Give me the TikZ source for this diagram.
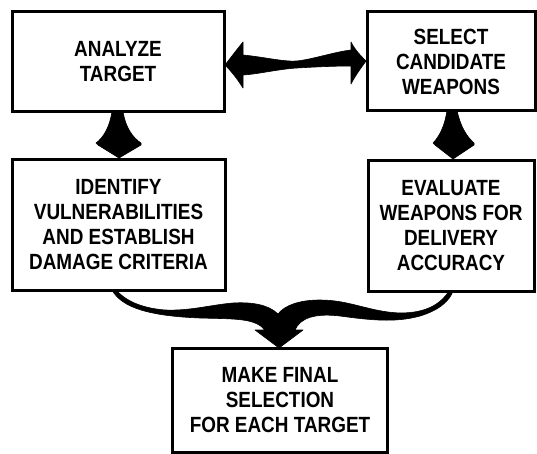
\documentclass[tikz,border=0pt]{standalone}
\usepackage{fontspec}
\newfontfamily\boxfont{Liberation Sans}[FakeStretch=0.86]
\usetikzlibrary{calc}
\tikzset{
  stepbox/.style={draw=black, line width=3pt, fill=white, inner sep=0pt, outer sep=0pt,
    align=center, font=\boxfont\bfseries\fontsize{22}{25}\selectfont},
  fatarrow/.style={fill=black, draw=black, line width=0.6pt, line join=round}
}
\begin{document}
\begin{tikzpicture}[x=1pt, y=-1pt]
\useasboundingbox (0,0) rectangle (537,454);
\fill[white] (0,0) rectangle (537,454);

% boxes
\node[stepbox, minimum width=212pt, minimum height=100pt] (b1) at (118,62) {ANALYZE\\TARGET};
\node[stepbox, minimum width=168pt, minimum height=99pt] (b2) at (451,61.5) {SELECT\\CANDIDATE\\WEAPONS};
\node[stepbox, minimum width=213pt, minimum height=130pt] (b3) at (118.5,225) {IDENTIFY\\VULNERABILITIES\\AND ESTABLISH\\DAMAGE CRITERIA};
\node[stepbox, minimum width=166pt, minimum height=130pt] (b4) at (451,226) {EVALUATE\\WEAPONS FOR\\DELIVERY\\ACCURACY};
\node[stepbox, minimum width=215pt, minimum height=104pt] (b5) at (280,400) {MAKE FINAL\\SELECTION\\FOR EACH TARGET};

% double arrow between b1 and b2
\begin{scope}[shift={(b1.east)}]
\fill[fatarrow] (1,3) .. controls (8,-6) and (14,-14) .. (19,-20)
  -- (19,-7) .. controls (40,-5) and (60,0) .. (73,-1)
  .. controls (90,-3) and (110,-10) .. (127,-12)
  -- (127,-20) .. controls (131,-12) and (137,-6) .. (142,-1)
  .. controls (137,6) and (131,14) .. (127,22)
  -- (127,4) .. controls (110,4) and (90,5) .. (73,6)
  .. controls (55,7) and (35,12) .. (19,13)
  -- (19,26) .. controls (14,18) and (8,10) .. (1,3) -- cycle;
\end{scope}

% down arrow b1 -> b3
\begin{scope}[shift={(b1.south)}]
\fill[fatarrow] (-6,-1) .. controls (-8,15) and (-15,26) .. (-22,31)
  -- (-20,33) -- (1,46) -- (23,33) -- (23,31)
  .. controls (15,26) and (7,15) .. (5,-1) -- cycle;
\end{scope}

% down arrow b2 -> b4
\begin{scope}[shift={(b2.south)}]
\fill[fatarrow] (-4,-1) .. controls (-6,15) and (-12,26) .. (-18,32)
  -- (-16,34) -- (2,48) -- (23,34) -- (23,32)
  .. controls (16,26) and (9,15) .. (6,-1) -- cycle;
\end{scope}

% merging arrow b3, b4 -> b5
\begin{scope}[shift={(b5.north)}]
\fill[fatarrow] (-168,-58)
  .. controls (-158,-40) and (-130,-32) .. (-80,-30)
  .. controls (-45,-29) and (-25,-30) .. (-15,-18)
  -- (-25,-18) -- (-1,0) -- (23,-18) -- (15,-18)
  .. controls (20,-30) and (35,-35) .. (60,-32)
  .. controls (90,-28) and (115,-25) .. (140,-32)
  .. controls (160,-38) and (170,-48) .. (173,-57)
  -- (169,-57)
  .. controls (160,-43) and (145,-35) .. (120,-35)
  .. controls (90,-36) and (70,-48) .. (40,-48)
  .. controls (20,-48) and (5,-43) .. (-2,-34)
  .. controls (-12,-44) and (-30,-46) .. (-47,-45)
  .. controls (-70,-43) and (-90,-37) .. (-115,-38)
  .. controls (-140,-40) and (-155,-48) .. (-164,-58)
  -- cycle;
\end{scope}
\end{tikzpicture}
\end{document}
